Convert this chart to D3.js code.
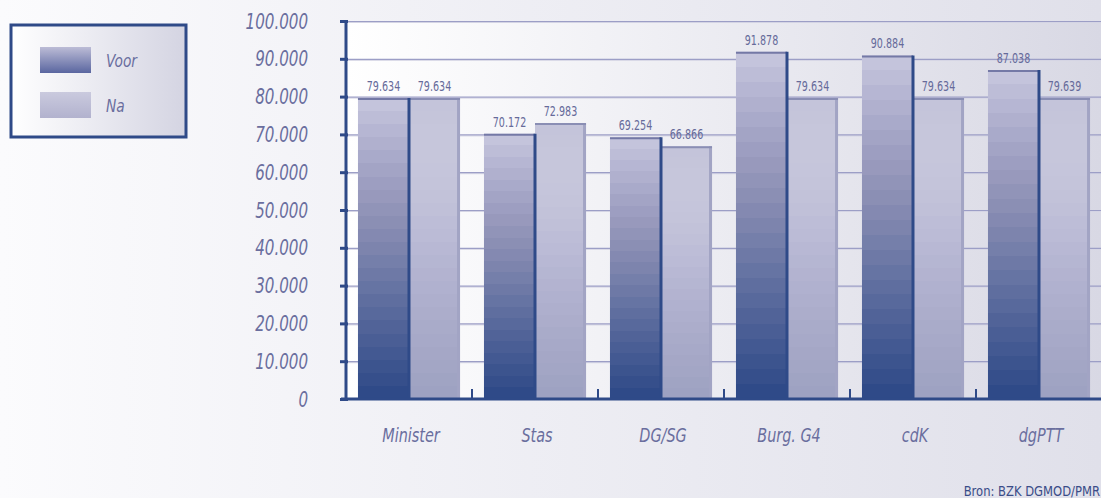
<!DOCTYPE html>
<html>
<head>
<meta charset="utf-8">
<script src="https://cdn.jsdelivr.net/npm/d3@7"></script>
<style>
  html, body { margin: 0; padding: 0; overflow: hidden; }
  text { font-family: "DejaVu Sans Condensed", "DejaVu Sans", sans-serif; }
</style>
</head>
<body>
<svg id="chart" width="1101" height="498"></svg>
<script>
// data
const categories = ["Minister", "Stas", "DG/SG", "Burg. G4", "cdK", "dgPTT"];
const series = ["Voor", "Na"];
const voorValues = [79634, 70172, 69254, 91878, 90884, 87038];
const naValues = [79634, 72983, 66866, 79634, 79634, 79639];
const yTicks = [0, 10000, 20000, 30000, 40000, 50000, 60000, 70000, 80000, 90000, 100000];
const source = "Bron: BZK DGMOD/PMR";

const W = 1101, H = 498;
const plotL = 346, plotR = 1102, plotT = 21, plotB = 399;
const textCol = "#6a6e9e";

const nl = d3.formatLocale({decimal: ",", thousands: ".", grouping: [3], currency: ["€", ""]});
const fmt = nl.format(",");

const rows = categories.map((c, i) => ({cat: c, Voor: voorValues[i], Na: naValues[i]}));

const svg = d3.select("#chart");
const defs = svg.append("defs");

function hGrad(id, from, to) {
  const g = defs.append("linearGradient").attr("id", id)
    .attr("x1", 0).attr("y1", 0).attr("x2", 1).attr("y2", 0);
  g.append("stop").attr("offset", 0).attr("stop-color", from);
  g.append("stop").attr("offset", 1).attr("stop-color", to);
}
hGrad("bgGrad", "#fbfbfd", "#e0e0ea");
hGrad("plotGrad", "#ffffff", "#d8d8e4");
hGrad("legGrad", "#ffffff", "#d4d4e2");

// stepped vertical gradients for the bars
function stepGrad(id, anchors, steps) {
  const interp = d3.interpolateRgbBasis(anchors);
  const g = defs.append("linearGradient").attr("id", id)
    .attr("x1", 0).attr("y1", 0).attr("x2", 0).attr("y2", 1);
  for (let i = 0; i < steps; i++) {
    const c = interp(i / (steps - 1));
    g.append("stop").attr("offset", i / steps).attr("stop-color", c);
    g.append("stop").attr("offset", (i + 1) / steps).attr("stop-color", c);
  }
}
stepGrad("voorGrad", ["#c4c4dc", "#a6a6c8", "#8e90b4", "#6c78a6", "#4c6096", "#2f4a88"], 23);
stepGrad("naGrad", ["#c4c4da", "#c8c8dc", "#bebed8", "#b2b2d0", "#a8aac8", "#9ea2c2"], 23);

const sw = defs.append("linearGradient").attr("id", "swVoor")
  .attr("x1", 0).attr("y1", 0).attr("x2", 0).attr("y2", 1);
sw.append("stop").attr("offset", 0).attr("stop-color", "#bcbcd6");
sw.append("stop").attr("offset", 1).attr("stop-color", "#5a66a0");
const sn = defs.append("linearGradient").attr("id", "swNa")
  .attr("x1", 0).attr("y1", 0).attr("x2", 0).attr("y2", 1);
sn.append("stop").attr("offset", 0).attr("stop-color", "#cacade");
sn.append("stop").attr("offset", 1).attr("stop-color", "#b2b2ce");

// the original uses a narrow face, squeeze the condensed one a bit
function narrow(sel, sx) {
  sel.each(function() {
    const t = d3.select(this);
    const x = +t.attr("x") || 0, yy = +t.attr("y") || 0;
    t.attr("x", 0).attr("y", 0)
      .attr("transform", `translate(${x},${yy}) scale(${sx},1)`);
  });
}

// background
svg.append("rect").attr("width", W).attr("height", H).attr("fill", "url(#bgGrad)");

const x0 = d3.scaleBand().domain(categories).range([plotL, plotR])
  .paddingInner(0.19).paddingOuter(0.095);
const x1 = d3.scaleBand().domain(series).range([0, x0.bandwidth()]);
const y = d3.scaleLinear().domain([0, 100000]).range([plotB, plotT]);

// plot area
svg.append("rect").attr("x", plotL).attr("y", plotT)
  .attr("width", plotR - plotL).attr("height", plotB - plotT)
  .attr("fill", "url(#plotGrad)");

// gridlines
const grid = svg.append("g");
grid.selectAll(".sh").data(yTicks.filter(d => d > 0)).join("line")
  .attr("x1", plotL).attr("x2", plotR)
  .attr("y1", d => y(d) + 1.5).attr("y2", d => y(d) + 1.5)
  .attr("stroke", "#d4d4e4").attr("stroke-width", 1);
grid.selectAll(".gl").data(yTicks.filter(d => d > 0)).join("line")
  .attr("x1", plotL).attr("x2", plotR)
  .attr("y1", d => y(d) + 0.5).attr("y2", d => y(d) + 0.5)
  .attr("stroke", "#9c9ec6").attr("stroke-width", 1.2);

// bars
const groups = svg.append("g").selectAll("g").data(rows).join("g")
  .attr("transform", d => `translate(${x0(d.cat)},0)`);

const bw = x1.bandwidth();
// Voor
groups.append("rect")
  .attr("x", x1("Voor")).attr("y", d => y(d.Voor))
  .attr("width", bw).attr("height", d => plotB - y(d.Voor))
  .attr("fill", "url(#voorGrad)");
groups.append("line")
  .attr("x1", x1("Voor")).attr("x2", x1("Voor") + bw)
  .attr("y1", d => y(d.Voor) + 1).attr("y2", d => y(d.Voor) + 1)
  .attr("stroke", "#7479a6").attr("stroke-width", 2);
// Na
groups.append("rect")
  .attr("x", x1("Na")).attr("y", d => y(d.Na))
  .attr("width", bw).attr("height", d => plotB - y(d.Na))
  .attr("fill", "url(#naGrad)");
groups.append("rect")
  .attr("x", x1("Na") + bw - 3).attr("y", d => y(d.Na))
  .attr("width", 3).attr("height", d => plotB - y(d.Na))
  .attr("fill", "#a2a4c4");
groups.append("line")
  .attr("x1", x1("Na")).attr("x2", x1("Na") + bw)
  .attr("y1", d => y(d.Na) + 1).attr("y2", d => y(d.Na) + 1)
  .attr("stroke", "#8a8eb4").attr("stroke-width", 2);
// dark separator on the right of Voor
groups.append("line")
  .attr("x1", x1("Na")).attr("x2", x1("Na"))
  .attr("y1", d => y(d.Voor)).attr("y2", plotB)
  .attr("stroke", "#2f4a88").attr("stroke-width", 3);

// value labels
groups.selectAll(".val").data(d => series.map(s => ({s, v: d[s]}))).join("text")
  .attr("x", d => x1(d.s) + bw / 2)
  .attr("y", d => y(d.v) - 7)
  .attr("text-anchor", "middle")
  .style("font-size", "14px")
  .style("fill", "#666a9a")
  .text(d => fmt(d.v))
  .call(narrow, 0.76);

// x axis
const xAxis = svg.append("g");
xAxis.append("line")
  .attr("x1", plotL - 5).attr("x2", W)
  .attr("y1", plotB).attr("y2", plotB)
  .attr("stroke", "#2f4a88").attr("stroke-width", 3);
xAxis.selectAll(".xt").data(categories.slice(0, -1)).join("line")
  .attr("x1", d => x0(d) + x0.step() - (x0.step() - x0.bandwidth()) / 2)
  .attr("x2", d => x0(d) + x0.step() - (x0.step() - x0.bandwidth()) / 2)
  .attr("y1", plotB).attr("y2", plotB - 10)
  .attr("stroke", "#2f4a88").attr("stroke-width", 2);
xAxis.selectAll(".xl").data(categories).join("text")
  .attr("x", d => x0(d) + x0.bandwidth() / 2 + 2)
  .attr("y", 442)
  .attr("text-anchor", "middle")
  .style("font-size", "20px")
  .style("font-style", "italic")
  .style("fill", textCol)
  .text(d => d)
  .call(narrow, 0.8);

// y axis
const yAxis = svg.append("g").attr("transform", `translate(${plotL},0)`)
  .call(d3.axisLeft(y).tickValues(yTicks).tickSize(6).tickPadding(32)
    .tickFormat(d => fmt(d)));
yAxis.select(".domain").attr("stroke", "#2f4a88").attr("stroke-width", 3)
  .attr("d", `M0,${plotT - 1}V${plotB}`);
yAxis.selectAll(".tick line").attr("stroke", "#2f4a88").attr("stroke-width", 3)
  .attr("x1", 2);
yAxis.selectAll(".tick text")
  .style("font-size", "21px")
  .style("font-style", "italic")
  .attr("fill", textCol)
  .attr("y", 7).attr("dy", null)
  .call(narrow, 0.8);

// legend
const leg = svg.append("g");
leg.append("rect").attr("x", 11).attr("y", 25).attr("width", 175).attr("height", 112)
  .attr("fill", "url(#legGrad)").attr("stroke", "#2f4a88").attr("stroke-width", 3);
const legItems = leg.selectAll(".li").data(series).join("g")
  .attr("transform", (d, i) => `translate(40,${47 + i * 45})`);
legItems.append("rect").attr("width", 51).attr("height", 26)
  .attr("fill", d => d === "Voor" ? "url(#swVoor)" : "url(#swNa)");
legItems.append("text").attr("x", 66).attr("y", 20)
  .style("font-size", "18px").style("font-style", "italic")
  .style("fill", textCol).text(d => d)
  .call(narrow, 0.85);

// source
svg.append("text").attr("x", 1100).attr("y", 496)
  .attr("text-anchor", "end")
  .style("font-size", "14px").style("fill", "#3a4c88")
  .text(source)
  .call(narrow, 0.92);
</script>
</body>
</html>
